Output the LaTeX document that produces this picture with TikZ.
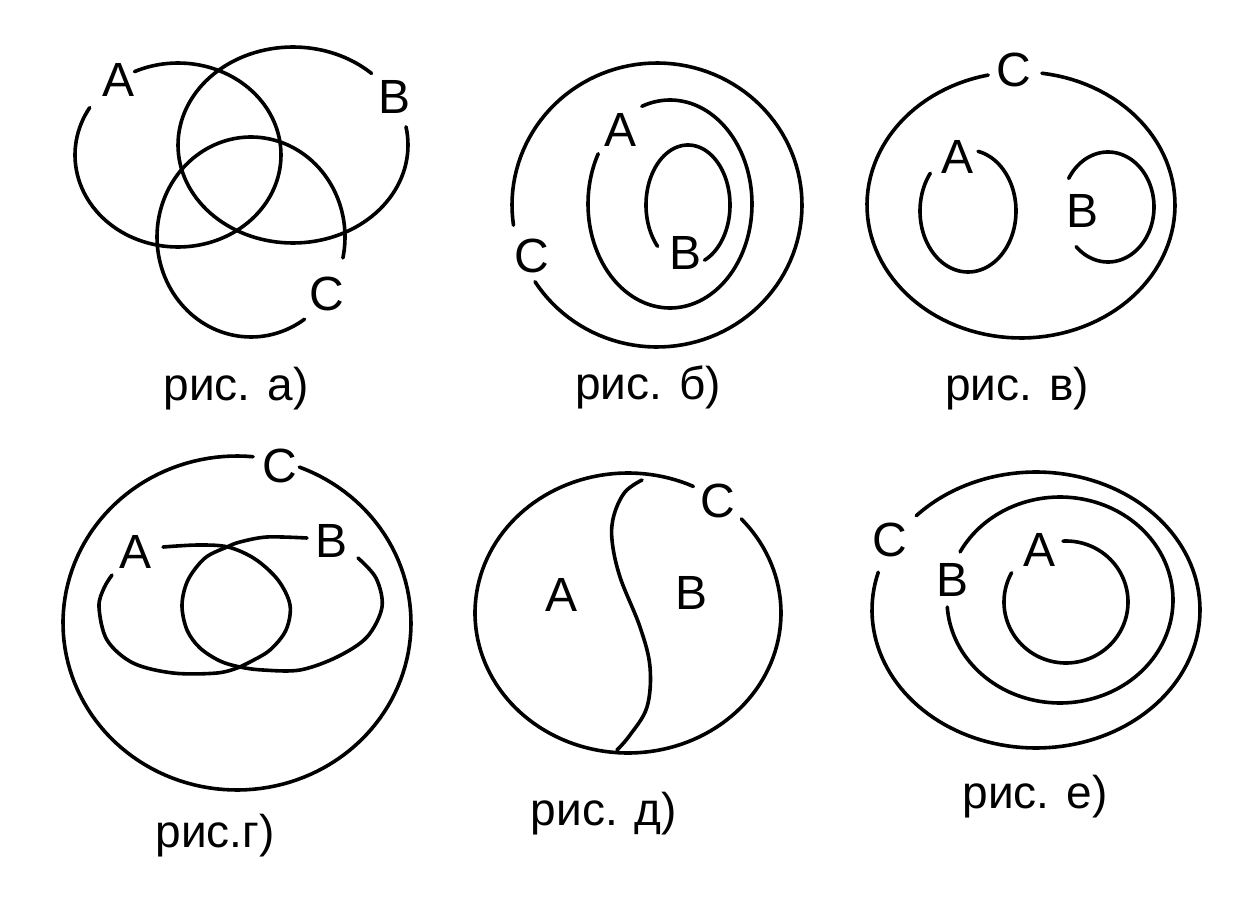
\documentclass[tikz,border=0pt]{standalone}
\usepackage{fontspec}
\setmainfont{Liberation Sans}
\begin{document}
\begin{tikzpicture}[x=1pt,y=-1pt,
  curve/.style={line width=3.6pt,line cap=round,line join=round},
  lbl/.style={inner sep=0pt,anchor=center,font=\fontsize{48}{50}\selectfont},
  captxt/.style={inner sep=0pt,anchor=base,font=\fontsize{46}{50}\selectfont}]
\useasboundingbox[fill=white] (0,0) rectangle (1248,899);
% ---------- panel a
\draw[curve] plot[domain=245:571,samples=120,variable=\t] ({178+103*cos(\t)},{155+92*sin(\t)});
\draw[curve] plot[domain=-10.7:313.1,samples=120,variable=\t] ({293+115*cos(\t)},{145+98*sin(\t)});
\draw[curve] plot[domain=55.3:372.1,samples=120,variable=\t] ({251+94*cos(\t)},{237+100*sin(\t)});
\node[lbl] (aA) at (119,80) {A};
\node[lbl] (aB) at (395,97) {B};
\node[lbl] (aC) at (327,294) {C};
\node[captxt] (ca) at (236,400) {рис. а)};
% ---------- panel b
\draw[curve] plot[domain=171.8:507.3,samples=120,variable=\t] ({657+145*cos(\t)},{205+142*sin(\t)});
\draw[curve] plot[domain=249.9:568.9,samples=120,variable=\t] ({670+82*cos(\t)},{204+104*sin(\t)});
\draw[curve] plot[domain=136.5:426.8,samples=120,variable=\t] ({688+42*cos(\t)},{205+60*sin(\t)});
\node[lbl] (bA) at (621,130) {A};
\node[lbl] (bB) at (686,253) {B};
\node[lbl] (bC) at (532,256) {C};
\node[captxt] (cb) at (648,399) {рис. б)};
% ---------- panel v
\draw[curve] plot[domain=277.8:617.7,samples=120,variable=\t] ({1021+154*cos(\t)},{205+133*sin(\t)});
\draw[curve] plot[domain=282.1:578.2,samples=120,variable=\t] ({968+48*cos(\t)},{211+61*sin(\t)});
\draw[curve] plot[domain=-148.7:133.8,samples=120,variable=\t] ({1108+46*cos(\t)},{207+55*sin(\t)});
\node[lbl] (vA) at (957,157) {A};
\node[lbl] (vB) at (1082,211) {B};
\node[lbl] (vC) at (1014,70) {C};
\node[captxt] (cv) at (1017,400) {рис. в)};
% ---------- panel g
\draw[curve] plot[domain=291:635.3,samples=140,variable=\t] ({237+174*cos(\t)},{623+167*sin(\t)});
\draw[curve] plot[smooth,tension=0.55] coordinates {(163,547) (198,545) (228,547) (255,559) (278,580) (290,605) (286,630) (270,650) (250,662) (240,667) (217,673) (173,673) (133,663) (107,640) (99,607) (104,588) (112,575)};
\draw[curve] plot[smooth,tension=0.55] coordinates {(307,538) (267,537) (240,542) (227,547) (205,558) (188,580) (182,605) (187,630) (200,648) (220,661) (240,667) (263,670) (300,670) (337,657) (367,637) (382,607) (376,578) (358,558)};
\node[lbl] (gA) at (136,552) {A};
\node[lbl] (gB) at (332,541) {B};
\node[lbl] (gC) at (280,466) {C};
\node[captxt] (cg) at (215,847) {рис.г)};
% ---------- panel d
\draw[curve] plot[domain=317.8:655.3,samples=140,variable=\t] ({628+153*cos(\t)},{613+140*sin(\t)});
\draw[curve] plot[smooth,tension=0.6] coordinates {(642,480) (625,492) (614,515) (612,540) (620,577) (640,627) (650,667) (647,707) (630,735) (617,750)};
\node[lbl] (dA) at (562,595) {A};
\node[lbl] (dB) at (692,593) {B};
\node[lbl] (dC) at (718,501) {C};
\node[captxt] (cd) at (604,825) {рис. д)};
% ---------- panel e
\draw[curve] plot[domain=223.1:555.9,samples=140,variable=\t] ({1036+164*cos(\t)},{610+138*sin(\t)});
\draw[curve] plot[domain=207.8:536.1,samples=140,variable=\t] ({1060+113*cos(\t)},{600+103*sin(\t)});
\draw[curve] plot[domain=267.2:568.6,samples=120,variable=\t] ({1066+62*cos(\t)},{602+61*sin(\t)});
\node[lbl] (eA) at (1039,550) {A};
\node[lbl] (eB) at (952,580) {B};
\node[lbl] (eC) at (890,540) {C};
\node[captxt] (ce) at (1035,808) {рис. е)};
\end{tikzpicture}
\end{document}
